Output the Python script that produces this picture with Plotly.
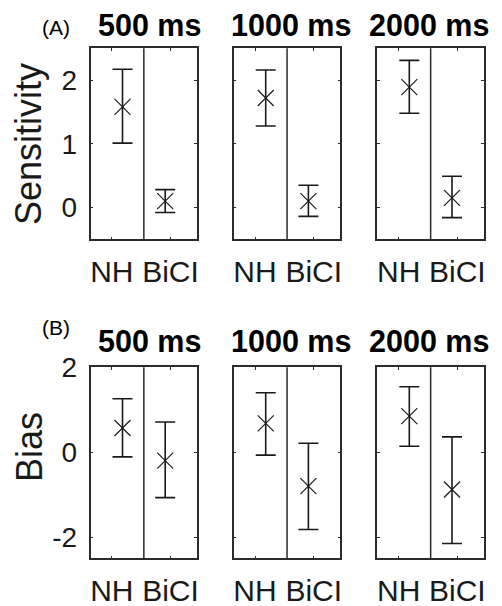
import plotly.graph_objects as go

durations = ["500 ms", "1000 ms", "2000 ms"]
groups = ["NH", "BiCI"]

sens_mean_nh = [1.58, 1.72, 1.89]
sens_upper_nh = [2.17, 2.16, 2.31]
sens_lower_nh = [1.01, 1.28, 1.48]
sens_mean_ci = [0.10, 0.10, 0.15]
sens_upper_ci = [0.28, 0.35, 0.49]
sens_lower_ci = [-0.08, -0.14, -0.16]

bias_mean_nh = [0.57, 0.68, 0.85]
bias_upper_nh = [1.26, 1.40, 1.54]
bias_lower_nh = [-0.11, -0.07, 0.14]
bias_mean_ci = [-0.20, -0.80, -0.88]
bias_upper_ci = [0.71, 0.21, 0.36]
bias_lower_ci = [-1.07, -1.82, -2.15]

sens_ticks = [0, 1, 2]
sens_tick_labels = ["0", "1", "2"]
bias_ticks = [-2, 0, 2]
bias_tick_labels = ["-2", "0", "2"]

# page has an 8px body margin; figure shifted so it lines up with the window
OFF = 8
W, H = 502 - OFF, 606 - OFF
FONT = "Liberation Sans, Arial, sans-serif"
INK = "#1a1a1a"
FRAME = "#2b2b2b"


def px(x):
    return (x - OFF) / W


def py(y):
    return 1 - (y - OFF) / H


# layout geometry (window pixels)
panel_x0 = [90.5, 233.7, 377.3]
panel_w = 106.7
rows = [(48.3, 239.3), (367.3, 558.3)]
point_pos = [0.30, 0.70]
tick_pos = [0.20, 0.75]
title_x = [149, 291, 429]

fig = go.Figure()

rows_data = [
    dict(nh=(sens_mean_nh, sens_upper_nh, sens_lower_nh),
         ci=(sens_mean_ci, sens_upper_ci, sens_lower_ci),
         rng=[-0.5, 2.5], ticks=sens_ticks, labels=sens_tick_labels),
    dict(nh=(bias_mean_nh, bias_upper_nh, bias_lower_nh),
         ci=(bias_mean_ci, bias_upper_ci, bias_lower_ci),
         rng=[-2.5, 2.0], ticks=bias_ticks, labels=bias_tick_labels),
]

layout = {}
shapes = []
idx = 0
for r, rd in enumerate(rows_data):
    ytop, ybot = rows[r]
    for c in range(3):
        idx += 1
        xn = "x" if idx == 1 else f"x{idx}"
        yn = "y" if idx == 1 else f"y{idx}"
        xa = "xaxis" if idx == 1 else f"xaxis{idx}"
        ya = "yaxis" if idx == 1 else f"yaxis{idx}"
        x0 = panel_x0[c]
        layout[xa] = dict(
            domain=[px(x0), px(x0 + panel_w)], range=[0, 1], anchor=yn,
            showline=True, mirror="ticks", linecolor=FRAME, linewidth=1.5,
            ticks="inside", ticklen=3, tickwidth=1, tickcolor=FRAME,
            tickvals=tick_pos, ticktext=groups, showgrid=False, zeroline=False,
            tickfont=dict(family=FONT, size=30, color=INK),
            ticklabelstandoff=5, automargin=False,
        )
        layout[ya] = dict(
            domain=[py(ybot), py(ytop)], range=rd["rng"], anchor=xn,
            showline=True, mirror="ticks", linecolor=FRAME, linewidth=1.5,
            ticks="inside", ticklen=3, tickwidth=1, tickcolor=FRAME,
            tickvals=rd["ticks"], ticktext=rd["labels"],
            showgrid=False, zeroline=False,
            showticklabels=(c == 0),
            tickfont=dict(family=FONT, size=28, color=INK),
            ticklabelstandoff=6, automargin=False,
        )
        for g, key in enumerate(["nh", "ci"]):
            m, up, lo = rd[key]
            fig.add_trace(go.Scatter(
                x=[point_pos[g]], y=[m[c]], xaxis=xn, yaxis=yn, mode="markers",
                marker=dict(symbol="x-thin", size=16, color=INK,
                            line=dict(width=1.2, color=INK)),
                error_y=dict(type="data", symmetric=False,
                             array=[up[c] - m[c]], arrayminus=[m[c] - lo[c]],
                             thickness=1.6, width=10, color=INK),
                showlegend=False, hoverinfo="skip",
            ))
        shapes.append(dict(type="line", xref=xn, yref=f"{yn} domain",
                           x0=0.5, x1=0.5, y0=0, y1=1,
                           line=dict(color=FRAME, width=1.5)))

annotations = []
title_y = [25, 341]
for r in range(2):
    for c in range(3):
        annotations.append(dict(
            text=f"<b>{durations[c]}</b>", xref="paper", yref="paper",
            x=px(title_x[c]), y=py(title_y[r]),
            xanchor="center", yanchor="middle", showarrow=False,
            font=dict(family=FONT, size=30.5, color="#000")))
for lab, yy in [("(A)", 28), ("(B)", 327)]:
    annotations.append(dict(
        text=lab, xref="paper", yref="paper", x=px(56), y=py(yy),
        xanchor="center", yanchor="middle", showarrow=False,
        font=dict(family=FONT, size=21, color="#000")))
for lab, yy in [("Sensitivity", 144), ("Bias", 447)]:
    annotations.append(dict(
        text=lab, xref="paper", yref="paper", x=px(29), y=py(yy),
        xanchor="center", yanchor="middle", showarrow=False, textangle=-90,
        font=dict(family=FONT, size=36, color=INK)))

fig.update_layout(
    template="none",
    width=W, height=H, margin=dict(l=0, r=0, t=0, b=0, pad=0),
    paper_bgcolor="white", plot_bgcolor="white",
    shapes=shapes, annotations=annotations, **layout,
)

fig.write_html("out.html")
